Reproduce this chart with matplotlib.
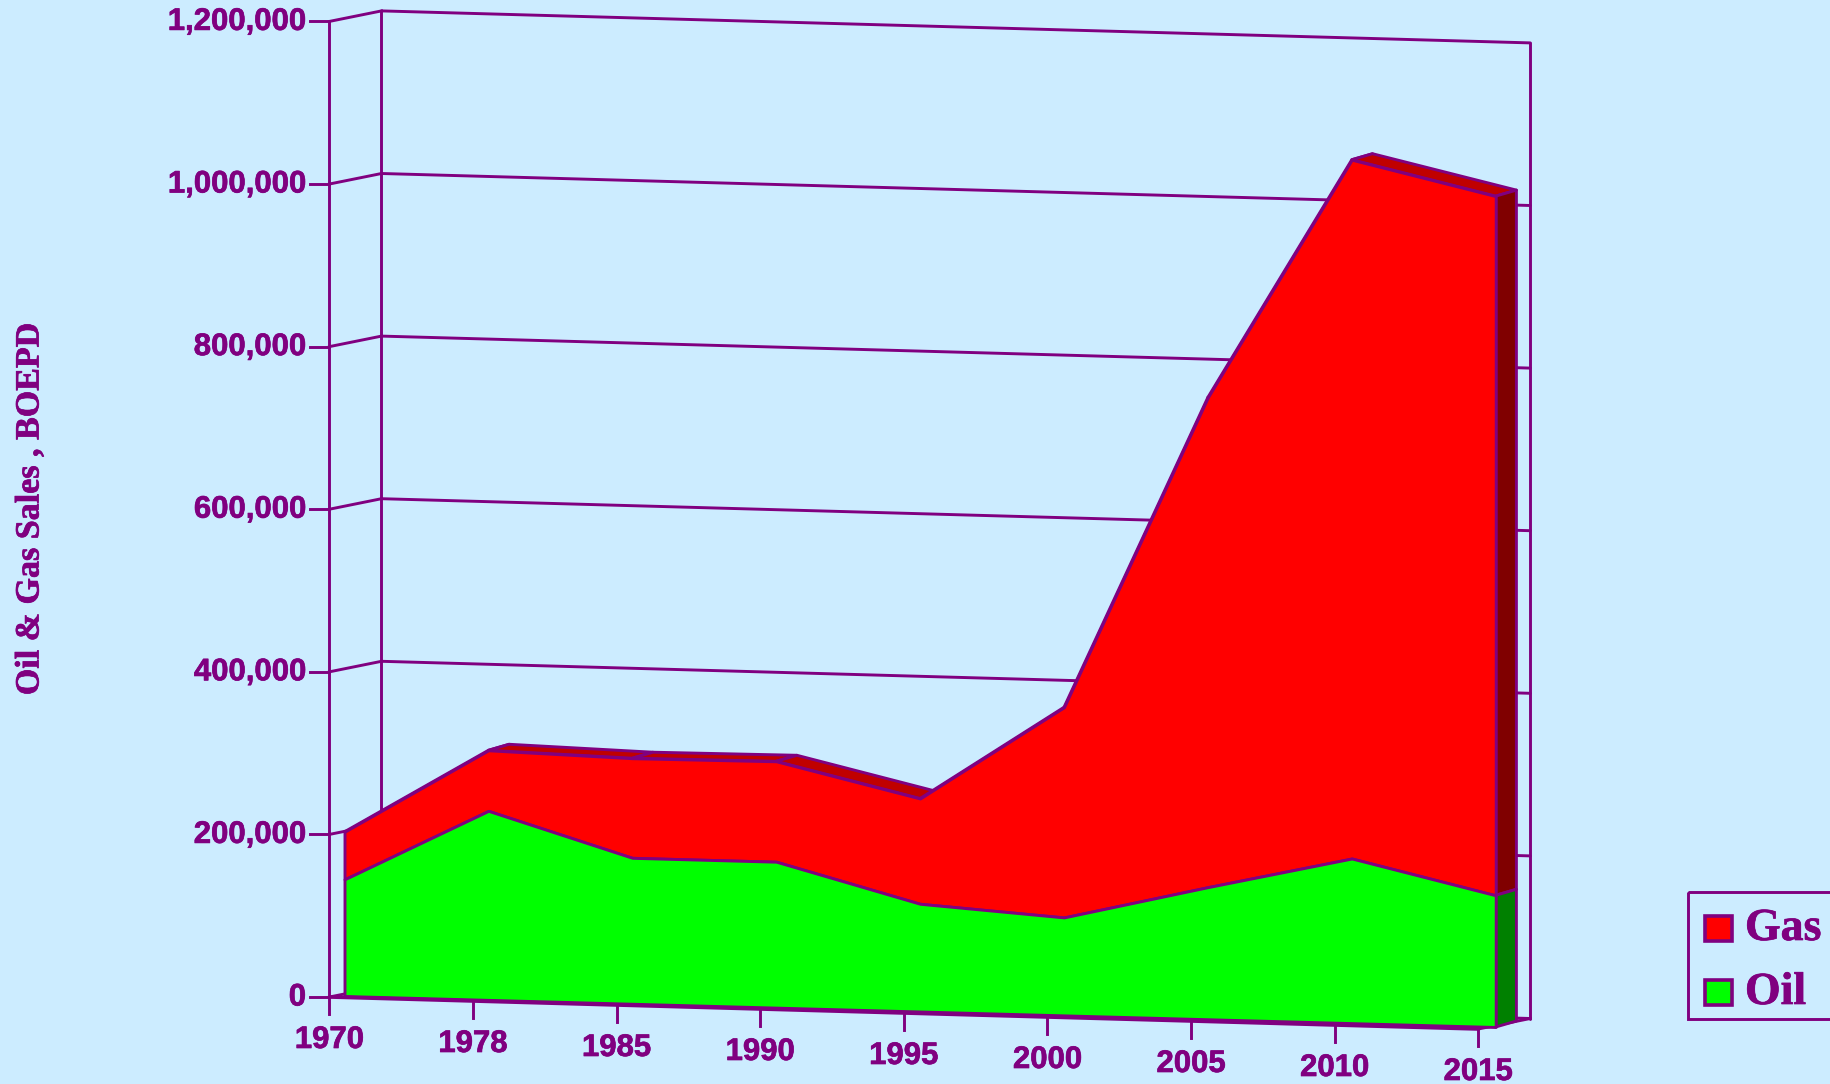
import numpy as np
import matplotlib
matplotlib.use('Agg')
import matplotlib.pyplot as plt
import matplotlib.patheffects as pe
from matplotlib.transforms import Affine2D

# Data
years = ['1970', '1978', '1985', '1990', '1995', '2000', '2005', '2010', '2015']
oil = [143500, 232500, 179500, 179500, 132500, 120500, 162500, 202500, 162000]
gas = [58500, 74500, 122500, 123500, 129500, 258500, 602500, 859500, 860000]
y_ticks = [0, 200000, 400000, 600000, 800000, 1000000, 1200000]

purple = '#800080'
back_col = '#CCECFF'
lw = 2.1

# Slight stroke, the text of the original is heavier than plain bold
heavy = [pe.withStroke(linewidth=0.5, foreground=purple)]

fig = plt.figure(figsize=(18.31, 10.84), dpi=100, facecolor=back_col)
ax = fig.add_axes([0, 0, 1, 1])
ax.set_xlim(0, 1831)
ax.set_ylim(1084, 0)
ax.axis('off')

k = 162.6 / 200000


# (category index, value) -> picture pixels, the 3D look is only a skew
def skew(x0, y0, dx, dy):
    return Affine2D().from_values(dx, dy, 0, -k, x0, y0)


front_wall = skew(329.5, 997, 143.6, 4.0)
back_wall = skew(381.5, 986.5, 143.6, 4.0)
series_front = skew(344.5, 996, 143.9, 3.875)
series_back = skew(365.2, 990, 143.9, 3.875)


def pts(tf, idx, vals):
    return tf.transform(np.column_stack([idx, vals]))


def line(tf, idx, vals, z=1, width=lw):
    p = pts(tf, idx, vals)
    ax.plot(p[:, 0], p[:, 1], color=purple, lw=width, solid_capstyle='round', zorder=z)


def poly(p, col, z):
    ax.fill(p[:, 0], p[:, 1], facecolor=col, edgecolor=purple, lw=lw, joinstyle='round', zorder=z)


# Walls and grid
for v in y_ticks:
    line(back_wall, [0, 8], [v, v])
    a = pts(front_wall, [0], [v])[0]
    b = pts(back_wall, [0], [v])[0]
    ax.plot([a[0], b[0]], [a[1], b[1]], color=purple, lw=lw, zorder=1)
    ax.plot([a[0] - 19, a[0]], [a[1], a[1]], color=purple, lw=lw, zorder=1)
    ax.text(a[0] - 23.5, a[1] + 0.5, f'{v:,}', ha='right', va='center', color=purple,
            fontsize=22.4, fontweight='bold', family='Liberation Sans', path_effects=heavy)

line(front_wall, [0, 0], [0, 1200000])
line(back_wall, [0, 0], [0, 1200000])
line(back_wall, [8, 8], [0, 1200000])
a = pts(front_wall, [8], [0])[0]
b = pts(back_wall, [8], [0])[0]
ax.plot([a[0], b[0]], [a[1], b[1]], color=purple, lw=lw, zorder=1)

# Year ticks
for i, year in enumerate(years):
    p = pts(front_wall, [i], [0])[0]
    ax.plot([p[0], p[0]], [p[1], p[1] + 17], color=purple, lw=lw, zorder=1)
    ax.text(p[0], p[1] + 43, year, ha='center', va='center', color=purple,
            fontsize=22.4, fontweight='bold', family='Liberation Sans', path_effects=heavy)

# Area tops, the front faces cover the ones which are not visible
idx = np.arange(len(years))
bottom = np.array(oil)
top = bottom + np.array(gas)
for i in range(len(years) - 1):
    f = pts(series_front, [i, i + 1], top[i:i + 2])
    b = pts(series_back, [i + 1, i], top[i:i + 2][::-1])
    poly(np.vstack([f, b]), '#C00000', 2)

# Right side faces
f = pts(series_front, [8, 8], [top[8], bottom[8]])
b = pts(series_back, [8, 8], [bottom[8], top[8]])
poly(np.vstack([f, b]), '#800000', 2)
f = pts(series_front, [8, 8], [bottom[8], 0])
b = pts(series_back, [8, 8], [0, bottom[8]])
poly(np.vstack([f, b]), '#008000', 2)

# Front faces
tf = series_front + ax.transData
ax.fill_between(idx, bottom, top, transform=tf, facecolor='#FF0000', edgecolor=purple, lw=lw, zorder=3)
ax.fill_between(idx, 0, bottom, transform=tf, facecolor='#00FF00', edgecolor=purple, lw=lw, zorder=3)

# Floor edge sits on top of the green
line(front_wall, [0, 8], [0, 0], z=4, width=2.6)

# Axis title
ax.text(30, 509, 'Oil & Gas Sales , BOEPD', rotation=90, ha='center', va='center', color=purple,
        fontsize=24.5, fontweight='bold', family='Liberation Serif', path_effects=heavy)

# Legend, it runs off the right edge in the original too
ax.add_patch(plt.Rectangle((1688, 892), 160, 127, facecolor='none', edgecolor=purple, lw=lw))
for name, col, y in [('Gas', '#FF0000', 928), ('Oil', '#00FF00', 992)]:
    ax.add_patch(plt.Rectangle((1705, y - 12.5), 27, 25, facecolor=col, edgecolor=purple, lw=2.6))
    ax.text(1745, y + 1, name, ha='left', va='center', color=purple,
            fontsize=33, fontweight='bold', family='Liberation Serif', path_effects=heavy)

fig.savefig('out.png', dpi=100, facecolor=back_col)
